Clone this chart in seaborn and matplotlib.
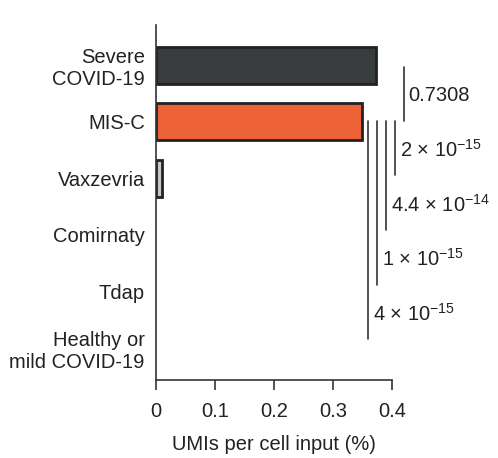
import numpy as np
import pandas as pd
import seaborn as sns
import matplotlib.pyplot as plt

# Data
groups = ["Severe\nCOVID-19", "MIS-C", "Vaxzevria", "Comirnaty", "Tdap", "Healthy or\nmild COVID-19"]
umi_pct = [0.373, 0.349, 0.010, 0.0, 0.0, 0.0]
bar_colors = ["#383c3c", "#ec6236", "#c8c8c8", "#ffffff", "#ffffff", "#ffffff"]
xticks = [0, 0.1, 0.2, 0.3, 0.4]
xtick_labels = ["0", "0.1", "0.2", "0.3", "0.4"]

# comparisons: (from group, to group, line x, p-value label)
comparisons = [
    (0, 1, 0.420, "0.7308"),
    (1, 2, 0.405, r"2 × 10$^{-15}$"),
    (1, 3, 0.390, r"4.4 × 10$^{-14}$"),
    (1, 4, 0.375, r"1 × 10$^{-15}$"),
    (1, 5, 0.360, r"4 × 10$^{-15}$"),
]

df = pd.DataFrame({"group": groups, "umi": umi_pct})

sns.set_style("ticks")
plt.rcParams["font.family"] = ["Liberation Sans", "DejaVu Sans"]
plt.rcParams["mathtext.fontset"] = "custom"
plt.rcParams["mathtext.rm"] = "Liberation Sans"
plt.rcParams["mathtext.it"] = "Liberation Sans:italic"
plt.rcParams["mathtext.bf"] = "Liberation Sans:bold"

txt = "#222222"
fig = plt.figure(figsize=(4.98, 4.58), dpi=100)
ax = fig.add_axes([0.313, 0.170, 0.474, 0.775])

sns.barplot(data=df, y="group", x="umi", hue="group", palette=bar_colors,
            legend=False, orient="h", width=0.65, edgecolor="#222222",
            linewidth=2, saturation=1, ax=ax)
# empty groups get no visible bar
for patch, v in zip(ax.patches, umi_pct):
    if v == 0:
        patch.set_visible(False)

ax.set_xlim(0, 0.4)
ax.set_ylim(len(groups) - 0.43, -0.71)
ax.set_xticks(xticks)
ax.set_xticklabels(xtick_labels)
ax.set_xlabel("UMIs per cell input (%)", fontsize=14.5, color=txt, labelpad=10)
ax.set_ylabel("")
ax.tick_params(axis="x", bottom=True, length=7, width=1.2, color="#333333",
               direction="out", pad=9, labelsize=14.5, labelcolor=txt)
ax.tick_params(axis="y", left=False, length=0, pad=8, labelsize=14.5,
               labelcolor=txt)
for lab in ax.get_yticklabels():
    lab.set_multialignment("right")

sns.despine(ax=ax, top=True, right=True)
for s in ["left", "bottom"]:
    ax.spines[s].set_linewidth(1.2)
    ax.spines[s].set_color("#333333")

# p-value brackets
for g0, g1, xl, lab in comparisons:
    y0 = g0 + 0.03 if g0 == 0 else g0 - 0.01
    y1 = g1 - 0.06 - 0.03 * (g1 - 2) if g1 > 1 else g1 - 0.01
    ax.plot([xl, xl], [y0, y1], color="#333333", lw=1.2, clip_on=False)
    ax.annotate(lab, xy=(xl, y1 - 0.45), xytext=(3.5, 0),
                textcoords="offset points", va="center", ha="left",
                fontsize=14.5, color=txt, annotation_clip=False)

plt.savefig("out.png", dpi=100)
